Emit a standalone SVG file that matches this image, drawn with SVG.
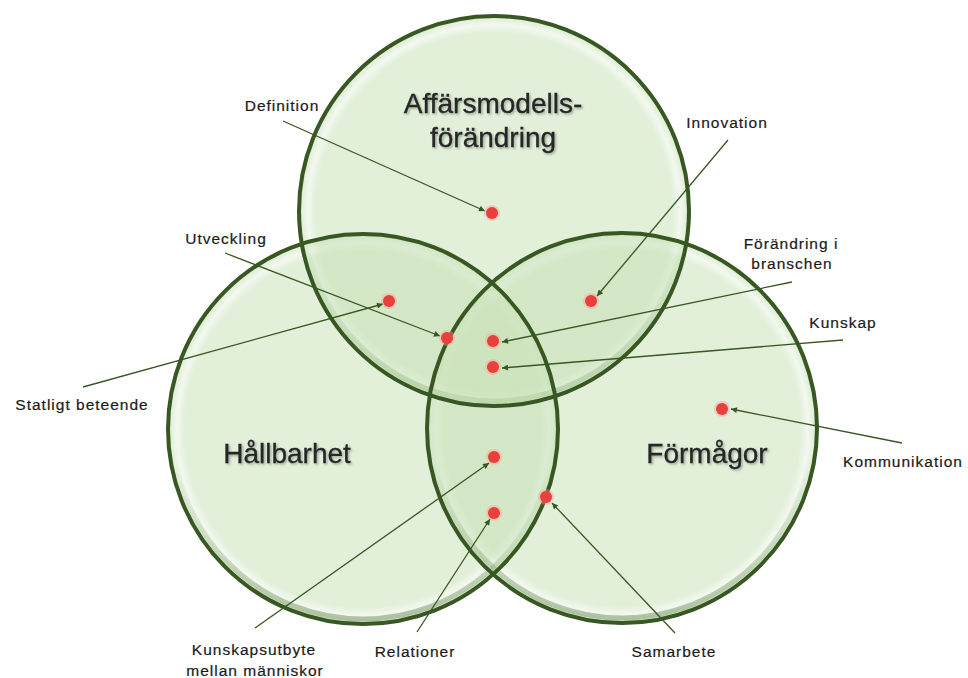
<svg xmlns="http://www.w3.org/2000/svg" width="968" height="678" viewBox="0 0 968 678">
  <defs>
    <style>
      .disc { fill: url(#discFill); }
      .shade { fill: none; stroke: url(#bottomShade); stroke-width: 5; }
      .rim { fill: none; stroke: #385723; stroke-width: 4; }
      .title { font-family: "Liberation Sans", Arial, sans-serif; font-size: 28px; fill: #262626; stroke: #262626; stroke-width: 0.3; text-anchor: middle; filter: url(#textShadow); }
      .label { font-family: "Liberation Sans", Arial, sans-serif; font-size: 15.5px; letter-spacing: 1px; fill: #1a1a1a; stroke: #1a1a1a; stroke-width: 0.2; text-anchor: middle; }
      .link { stroke: #385723; stroke-width: 1.3; fill: none; marker-end: url(#arrow); }
      .dot { fill: #e8403c; }
      .halo { fill: #ff9a94; opacity: 0.4; }
    </style>
    <!-- translucent disc with a pale inner rim -->
    <radialGradient id="discFill" cx="0.5" cy="0.5" r="0.5">
      <stop offset="0" stop-color="#c5e0b4" stop-opacity="0.5"/>
      <stop offset="0.915" stop-color="#c5e0b4" stop-opacity="0.5"/>
      <stop offset="0.955" stop-color="#c5e0b4" stop-opacity="0.22"/>
      <stop offset="0.985" stop-color="#c5e0b4" stop-opacity="0.5"/>
      <stop offset="1" stop-color="#a6c592" stop-opacity="0.6"/>
    </radialGradient>
    <linearGradient id="bottomShade" x1="0" y1="0" x2="0" y2="1">
      <stop offset="0" stop-color="#7f9a6c" stop-opacity="0"/>
      <stop offset="0.6" stop-color="#7f9a6c" stop-opacity="0"/>
      <stop offset="1" stop-color="#7f9a6c" stop-opacity="0.55"/>
    </linearGradient>
    <filter id="textShadow" x="-10%" y="-30%" width="120%" height="160%">
      <feDropShadow dx="1.5" dy="1.5" stdDeviation="1.2" flood-color="#000" flood-opacity="0.3"/>
    </filter>
    <marker id="arrow" viewBox="0 0 10 10" refX="10" refY="5" markerWidth="7" markerHeight="6" markerUnits="userSpaceOnUse" orient="auto">
      <path d="M0,0 L10,5 L0,10 z" fill="#385723"/>
    </marker>
  </defs>

  <rect width="968" height="678" fill="#ffffff"/>

  <!-- Three overlapping sets -->
  <g id="set-affarsmodell">
    <circle class="disc" cx="494" cy="211" r="195"/>
    <circle class="shade" cx="494" cy="211" r="190"/>
  </g>
  <g id="set-hallbarhet">
    <circle class="disc" cx="363" cy="429" r="195"/>
    <circle class="shade" cx="363" cy="429" r="190"/>
  </g>
  <g id="set-formagor">
    <circle class="disc" cx="622" cy="428" r="195"/>
    <circle class="shade" cx="622" cy="428" r="190"/>
  </g>
  <!-- Set outlines drawn above all fills so every edge stays dark -->
  <g id="set-outlines">
    <circle class="rim" cx="494" cy="211" r="195"/>
    <circle class="rim" cx="363" cy="429" r="195"/>
    <circle class="rim" cx="622" cy="428" r="195"/>
  </g>

  <!-- Set titles -->
  <g id="title-affarsmodell">
    <text class="title" x="493" y="113">Affärsmodells-</text>
    <text class="title" x="493" y="147">förändring</text>
  </g>
  <g id="title-hallbarhet">
    <text class="title" x="287" y="463">Hållbarhet</text>
  </g>
  <g id="title-formagor">
    <text class="title" x="707" y="463">Förmågor</text>
  </g>

  <!-- Leader lines from labels to points -->
  <g id="connectors">
    <line class="link" x1="283" y1="121" x2="485" y2="211"/>
    <line class="link" x1="728" y1="140" x2="597" y2="296"/>
    <line class="link" x1="83" y1="387" x2="383" y2="304"/>
    <line class="link" x1="225" y1="253" x2="440" y2="336"/>
    <line class="link" x1="792" y1="282" x2="502" y2="342"/>
    <line class="link" x1="843" y1="340" x2="502" y2="368"/>
    <line class="link" x1="902" y1="443" x2="731" y2="409"/>
    <line class="link" x1="675" y1="633" x2="552" y2="503"/>
    <line class="link" x1="417" y1="632" x2="490" y2="519"/>
    <line class="link" x1="255" y1="628" x2="489" y2="463"/>
  </g>

  <!-- Points -->
  <g id="point-definition"><circle class="halo" cx="492" cy="213" r="8"/><circle class="dot" cx="492" cy="213" r="6"/></g>
  <g id="point-innovation"><circle class="halo" cx="591" cy="301" r="8"/><circle class="dot" cx="591" cy="301" r="6"/></g>
  <g id="point-statligt"><circle class="halo" cx="389" cy="301" r="8"/><circle class="dot" cx="389" cy="301" r="6"/></g>
  <g id="point-utveckling"><circle class="halo" cx="447" cy="338" r="8"/><circle class="dot" cx="447" cy="338" r="6"/></g>
  <g id="point-forandring"><circle class="halo" cx="493" cy="341" r="8"/><circle class="dot" cx="493" cy="341" r="6"/></g>
  <g id="point-kunskap"><circle class="halo" cx="493" cy="367" r="8"/><circle class="dot" cx="493" cy="367" r="6"/></g>
  <g id="point-kunskapsutbyte"><circle class="halo" cx="494" cy="457" r="8"/><circle class="dot" cx="494" cy="457" r="6"/></g>
  <g id="point-relationer"><circle class="halo" cx="494" cy="513" r="8"/><circle class="dot" cx="494" cy="513" r="6"/></g>
  <g id="point-samarbete"><circle class="halo" cx="546" cy="497" r="8"/><circle class="dot" cx="546" cy="497" r="6"/></g>
  <g id="point-kommunikation"><circle class="halo" cx="722" cy="409" r="8"/><circle class="dot" cx="722" cy="409" r="6"/></g>

  <!-- Labels -->
  <g id="label-definition"><text class="label" x="282" y="111">Definition</text></g>
  <g id="label-innovation"><text class="label" x="727" y="128">Innovation</text></g>
  <g id="label-utveckling"><text class="label" x="226" y="244">Utveckling</text></g>
  <g id="label-statligt"><text class="label" x="82" y="410">Statligt beteende</text></g>
  <g id="label-forandring">
    <text class="label" x="791" y="249">Förändring i</text>
    <text class="label" x="792" y="269">branschen</text>
  </g>
  <g id="label-kunskap"><text class="label" x="843" y="328">Kunskap</text></g>
  <g id="label-kommunikation"><text class="label" x="903" y="467">Kommunikation</text></g>
  <g id="label-samarbete"><text class="label" x="674" y="657">Samarbete</text></g>
  <g id="label-relationer"><text class="label" x="415" y="657">Relationer</text></g>
  <g id="label-kunskapsutbyte">
    <text class="label" x="254" y="655">Kunskapsutbyte</text>
    <text class="label" x="255" y="676">mellan människor</text>
  </g>
</svg>
